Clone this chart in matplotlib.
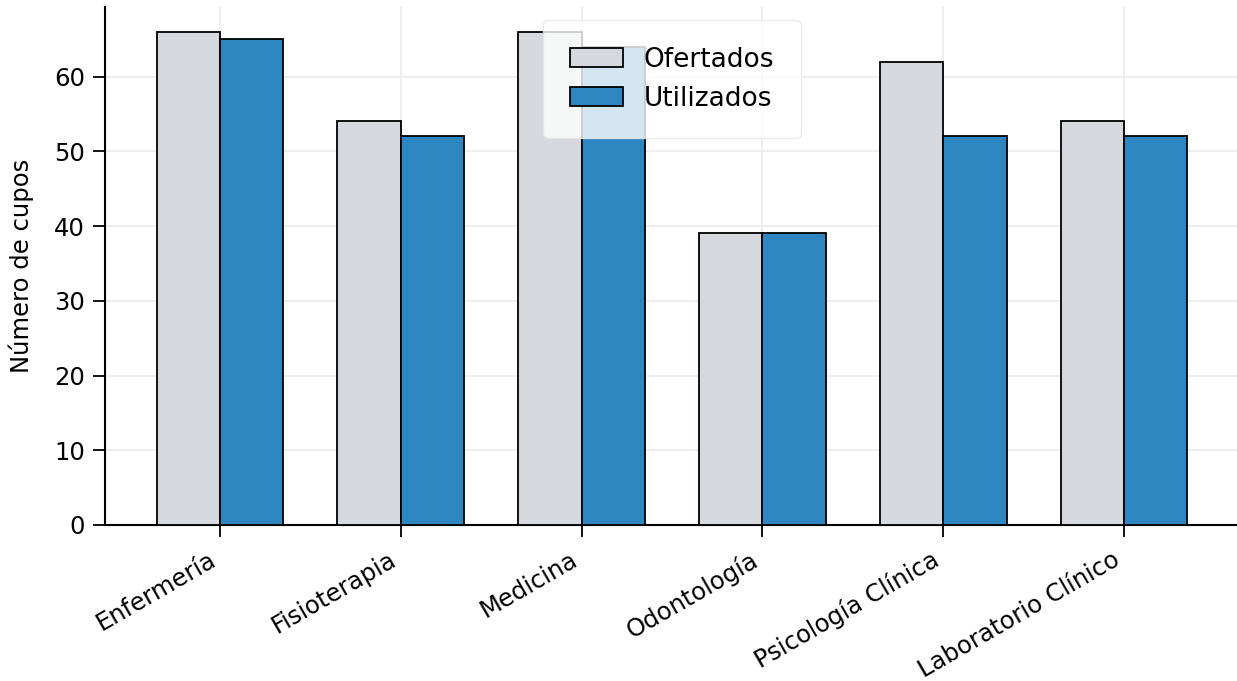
import matplotlib
matplotlib.use("Agg")
import matplotlib.pyplot as plt
import numpy as np

categories = ["Enfermería", "Fisioterapia", "Medicina", "Odontología", "Psicología Clínica", "Laboratorio Clínico"]
ofertados = [66, 54, 66, 39, 62, 54]
utilizados = [65, 52, 64, 39, 52, 52]

fig = plt.figure(figsize=(12.37, 6.81), dpi=100)
ax = fig.add_axes([105/1237, 1-525/681, (1239-105)/1237, (525-7)/681])

x = np.arange(len(categories))
w = 0.35
ax.bar(x - w/2, ofertados, w, color="#d5d8dc", edgecolor="black", linewidth=1.3, label="Ofertados", zorder=3)
ax.bar(x + w/2, utilizados, w, color="#2e86c1", edgecolor="black", linewidth=1.3, label="Utilizados", zorder=3)

ax.set_xticks(x)
ax.set_xticklabels(categories, rotation=30, ha="right", fontsize=17.5)
ax.tick_params(axis="y", labelsize=17.5, pad=6)
ax.tick_params(axis="x", pad=7.5)
ax.tick_params(length=8.5, width=1.3)
ax.set_ylabel("Número de cupos", fontsize=17.5, labelpad=14)
ax.grid(True, color="#ebebeb", linewidth=1.2, zorder=0)
ax.set_axisbelow(True)
for s in ["top", "right"]:
    ax.spines[s].set_visible(False)
for s in ["left", "bottom"]:
    ax.spines[s].set_linewidth(1.5)
ax.set_xlim(-0.635, 5.635)
ax.set_ylim(0, 69.3)
ax.legend(loc="upper center", fontsize=19, framealpha=0.8, edgecolor="#e6e6e6", borderpad=1.0)

fig.savefig("out.png", dpi=100)
